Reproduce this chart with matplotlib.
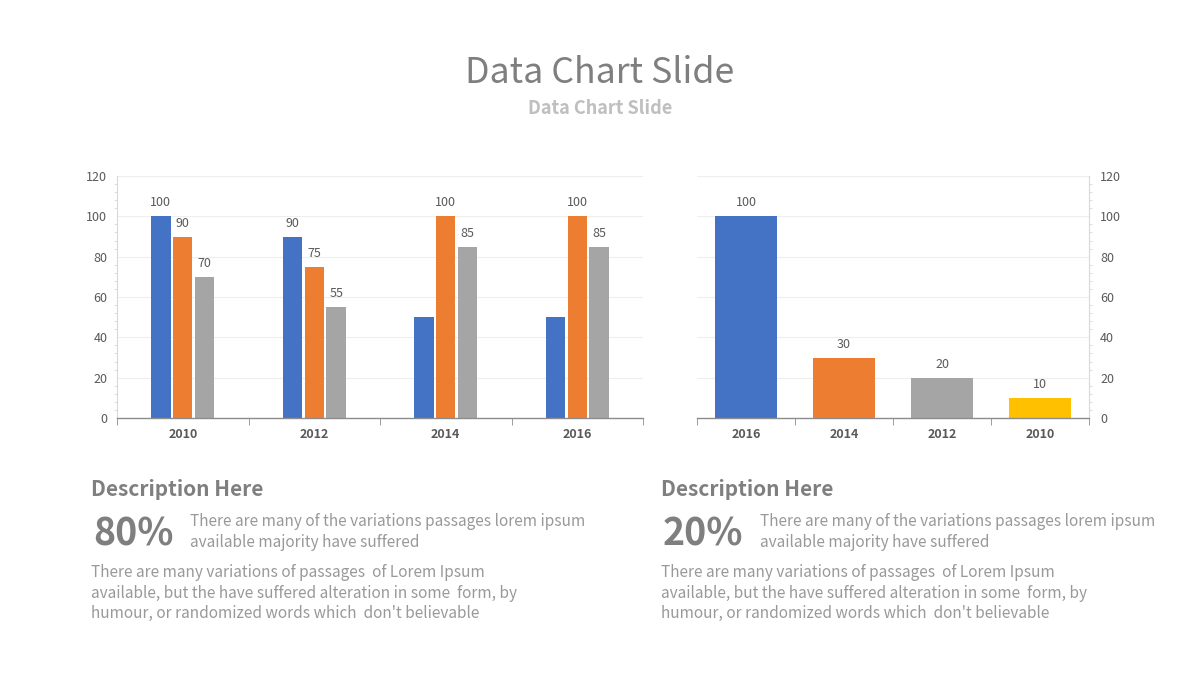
import numpy as np
import matplotlib.pyplot as plt
from matplotlib.ticker import MultipleLocator, FixedLocator

plt.rcParams['font.family'] = ['Noto Sans CJK SC', 'DejaVu Sans']

# 左图数据
years_left = ['2010', '2012', '2014', '2016']
series1 = [100, 90, 50, 50]
series2 = [90, 75, 100, 100]
series3 = [70, 55, 85, 85]
labels1 = ['100', '90', '', '']
labels2 = ['90', '75', '100', '100']
labels3 = ['70', '55', '85', '85']

# 右图数据
years_right = ['2016', '2014', '2012', '2010']
values_right = [100, 30, 20, 10]

blue = '#4472C4'
orange = '#ED7D31'
gray = '#A5A5A5'
yellow = '#FFC000'
txt = '#595959'

fig = plt.figure(figsize=(12, 6.8), dpi=100)


def style_axis(ax, side):
    ax.set_ylim(0, 120)
    ax.set_xlim(-0.5, 3.5)
    ax.yaxis.set_major_locator(MultipleLocator(20))
    ax.yaxis.set_minor_locator(MultipleLocator(4))
    ax.grid(axis='y', color='#eeeeee', linewidth=0.8)
    ax.set_axisbelow(True)
    for s in ['top', 'left', 'right']:
        ax.spines[s].set_visible(False)
    ax.spines[side].set_visible(True)
    ax.spines[side].set_color('#d9d9d9')
    ax.spines['bottom'].set_color('#8c8c8c')
    ax.spines['bottom'].set_linewidth(1.0)
    if side == 'right':
        ax.yaxis.tick_right()
        ax.tick_params(axis='y', which='major', length=0, pad=8, labelsize=9, labelcolor=txt)
    else:
        ax.tick_params(axis='y', which='major', length=0, pad=7, labelsize=9, labelcolor=txt)
    ax.tick_params(axis='y', which='minor', length=2.5, color='#d9d9d9')
    ax.xaxis.set_minor_locator(FixedLocator([-0.5, 0.5, 1.5, 2.5, 3.5]))
    ax.tick_params(axis='x', which='major', length=0, pad=7, labelsize=9, labelcolor=txt)
    ax.tick_params(axis='x', which='minor', length=5, color='#8c8c8c')
    for t in ax.get_xticklabels():
        t.set_fontweight('bold')


# 左边的柱状图
ax1 = fig.add_axes([117/1200, 1-418/680, 526/1200, 242/680])
index = np.arange(len(years_left))
w = 0.148
off = 0.167
b1 = ax1.bar(index-off, series1, w, color=blue)
b2 = ax1.bar(index, series2, w, color=orange)
b3 = ax1.bar(index+off, series3, w, color=gray)
ax1.bar_label(b1, labels=labels1, padding=5, fontsize=9, color=txt)
ax1.bar_label(b2, labels=labels2, padding=5, fontsize=9, color=txt)
ax1.bar_label(b3, labels=labels3, padding=5, fontsize=9, color=txt)
ax1.set_xticks(index)
ax1.set_xticklabels(years_left)
style_axis(ax1, 'left')

# 右边的柱状图
ax2 = fig.add_axes([697/1200, 1-418/680, 392/1200, 242/680])
index2 = np.arange(len(years_right))
b4 = ax2.bar(index2, values_right, 0.63, color=[blue, orange, gray, yellow])
ax2.bar_label(b4, padding=5, fontsize=9, color=txt)
ax2.set_xticks(index2)
ax2.set_xticklabels(years_right)
style_axis(ax2, 'right')

# 标题
fig.text(0.5, 1-73/680, 'Data Chart Slide', ha='center', va='center', fontsize=25.7, color='#7f7f7f')
fig.text(0.5, 1-108/680, 'Data Chart Slide', ha='center', va='center', fontsize=13,
         color='#bfbfbf', fontweight='bold')

# 描述文字
for x0, pct in [(91, '80%'), (661, '20%')]:
    fig.text(x0/1200, 1-490/680, 'Description Here', ha='left', va='center', fontsize=15,
             color='#7f7f7f', fontweight='bold')
    fig.text((x0+2)/1200, 1-534/680, pct, ha='left', va='center', fontsize=27,
             color='#7f7f7f', fontweight='bold')
    fig.text((x0+99)/1200, 1-532/680,
             'There are many of the variations passages lorem ipsum\navailable majority have suffered',
             ha='left', va='center', fontsize=11.1, color='#999999', linespacing=1.3)
    fig.text(x0/1200, 1-593/680,
             "There are many variations of passages  of Lorem Ipsum\n"
             "available, but the have suffered alteration in some  form, by\n"
             "humour, or randomized words which  don't believable",
             ha='left', va='center', fontsize=11.1, color='#999999', linespacing=1.25)

plt.savefig('out.png', dpi=100)
